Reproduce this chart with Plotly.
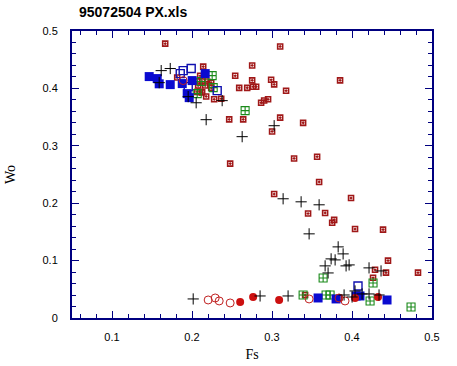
import plotly.graph_objects as go

title_text = "95072504 PX.xls"

plus_fs = [0.1615, 0.1728, 0.159, 0.1952, 0.2052, 0.2177, 0.2377, 0.2627, 0.3027, 0.3139, 0.3364, 0.3589,
           0.3464, 0.3827, 0.3889, 0.3739, 0.3789, 0.3664, 0.3926, 0.3964, 0.4213, 0.4363, 0.3701,
           0.2015, 0.2851, 0.3201, 0.3901, 0.4001, 0.4038, 0.4126, 0.4213, 0.4338]
plus_wo = [0.431, 0.4346, 0.410, 0.3857, 0.375, 0.3455, 0.3787, 0.3159, 0.335, 0.2077, 0.2024, 0.1972,
           0.1466, 0.1239, 0.1117, 0.103, 0.1012, 0.0908, 0.0908, 0.0925, 0.0873, 0.082, 0.0785,
           0.0332, 0.0384, 0.0384, 0.0401, 0.0366, 0.0471, 0.0419, 0.0419, 0.0401]

dot_fs = [0.1665, 0.3102, 0.2140, 0.2752, 0.2540, 0.2102, 0.1815, 0.2752, 0.2989, 0.3027, 0.3851,
          0.2065, 0.2127, 0.2190, 0.2240, 0.2077, 0.2165, 0.2240, 0.2590, 0.2690, 0.2764, 0.2802,
          0.3176, 0.2065, 0.2102, 0.2127, 0.2177, 0.2277, 0.2365, 0.2864, 0.2902, 0.2951, 0.2465,
          0.2640, 0.3102, 0.3389, 0.3001, 0.3276, 0.3564, 0.2477, 0.3589, 0.3027, 0.3988, 0.3451,
          0.3664, 0.3777, 0.3752, 0.4038, 0.4388, 0.4450, 0.4288, 0.4425, 0.4825, 0.4263, 0.3414, 0.3838]
dot_wo = [0.478, 0.473, 0.438, 0.440, 0.422, 0.422, 0.419, 0.414, 0.415, 0.407, 0.414,
          0.412, 0.412, 0.412, 0.410, 0.405, 0.405, 0.401, 0.401, 0.401, 0.403, 0.403,
          0.396, 0.394, 0.394, 0.393, 0.386, 0.381, 0.382, 0.375, 0.379, 0.381, 0.346,
          0.346, 0.349, 0.340, 0.325, 0.278, 0.281, 0.269, 0.237, 0.216, 0.209, 0.182,
          0.183, 0.171, 0.166, 0.155, 0.154, 0.100, 0.084, 0.079, 0.079, 0.070, 0.040, 0.035]

bfill_fs = [0.1465, 0.1565, 0.159, 0.1728, 0.1878, 0.194, 0.1965, 0.2002, 0.2165,
            0.3576, 0.3801, 0.4051, 0.4100, 0.4438]
bfill_wo = [0.4206, 0.4171, 0.408, 0.4066, 0.4084, 0.3909, 0.3839, 0.4136, 0.4258,
            0.0349, 0.0332, 0.0384, 0.0384, 0.0314]

bopen_fs = [0.199, 0.1853, 0.2315, 0.1953, 0.4075, 0.189]
bopen_wo = [0.4346, 0.4258, 0.3962, 0.4031, 0.0558, 0.431]

green_fs = [0.2252, 0.2115, 0.2265, 0.2065, 0.2664, 0.3389, 0.3639, 0.3676, 0.3726, 0.4263, 0.4226, 0.4738]
green_wo = [0.4223, 0.4119, 0.4014, 0.3909, 0.3613, 0.0401, 0.0698, 0.0401, 0.0401, 0.0611, 0.0297, 0.0192]

rfill_fs = [0.2602, 0.2764, 0.3089, 0.4038, 0.4325]
rfill_wo = [0.0279, 0.0366, 0.0314, 0.0349, 0.0366]

ropen_fs = [0.2202, 0.2290, 0.2340, 0.2477, 0.3464, 0.3913, 0.3838, 0.189]
ropen_wo = [0.0314, 0.0349, 0.0297, 0.0262, 0.0332, 0.0297, 0.0349, 0.4136]

x_ticks = [0.1, 0.2, 0.3, 0.4, 0.5]
y_ticks = [0, 0.1, 0.2, 0.3, 0.4, 0.5]

navy = "#000080"
W, H = 457, 366

fig = go.Figure()

fig.add_trace(go.Scatter(x=dot_fs, y=dot_wo, mode="markers",
                         marker=dict(symbol="square-open-dot", size=5, color="#a01818",
                                     line=dict(width=1.6, color="#a01818"))))
fig.add_trace(go.Scatter(x=green_fs, y=green_wo, mode="markers",
                         marker=dict(symbol="square-cross-open", size=8, color="#1a8a1a",
                                     line=dict(width=1.1, color="#1a8a1a"))))
fig.add_trace(go.Scatter(x=bopen_fs, y=bopen_wo, mode="markers",
                         marker=dict(symbol="square-open", size=8, color="#1010b0",
                                     line=dict(width=1.4, color="#1010b0"))))
fig.add_trace(go.Scatter(x=bfill_fs, y=bfill_wo, mode="markers",
                         marker=dict(symbol="square", size=9, color="#0a0ad0",
                                     line=dict(width=0))))
fig.add_trace(go.Scatter(x=rfill_fs, y=rfill_wo, mode="markers",
                         marker=dict(symbol="circle", size=8, color="#cc1010",
                                     line=dict(width=0))))
fig.add_trace(go.Scatter(x=ropen_fs, y=ropen_wo, mode="markers",
                         marker=dict(symbol="circle-open", size=8, color="#c02020",
                                     line=dict(width=1, color="#c02020"))))
fig.add_trace(go.Scatter(x=plus_fs, y=plus_wo, mode="markers",
                         marker=dict(symbol="cross-thin-open", size=8, color="black",
                                     line=dict(width=1, color="black"))))

fig.update_layout(
    width=W, height=H,
    margin=dict(l=72, r=25, t=31, b=48, autoexpand=False),
    paper_bgcolor="white", plot_bgcolor="white",
    showlegend=False,
    font=dict(family="Liberation Sans, Arial, sans-serif", size=11, color="black"),
    title=dict(text="<b>" + title_text + "</b>", font=dict(size=14, color="black"),
               xref="container", x=79 / W, xanchor="left",
               yref="container", y=1 - 12 / H, yanchor="middle"),
)

axis_common = dict(
    automargin=False,
    showline=True, linewidth=2, linecolor=navy, mirror="ticks",
    ticks="inside", ticklen=7, tickwidth=1, tickcolor=navy,
    showgrid=False, zeroline=False,
    tickfont=dict(size=11, color="black"),
    minor=dict(ticks="inside", ticklen=4, tickwidth=1, tickcolor=navy, dtick=0.02, tick0=0, showgrid=False),
)

fig.update_xaxes(range=[0.05, 0.5], tickvals=x_ticks, ticktext=[str(v) for v in x_ticks],
                 ticklabelstandoff=8,
                 title=dict(text="Fs", font=dict(family="Liberation Serif, Times New Roman, serif", size=14),
                            standoff=7),
                 **axis_common)
fig.update_yaxes(range=[0, 0.5], tickvals=y_ticks, ticktext=[str(v) for v in y_ticks],
                 ticklabelstandoff=10,
                 title=dict(text="Wo", font=dict(family="Liberation Serif, Times New Roman, serif", size=14),
                            standoff=24),
                 **axis_common)

fig.write_html("out.html",
               config={"displayModeBar": False},
               post_script="document.body.style.margin='0';document.body.style.overflow='hidden';")
